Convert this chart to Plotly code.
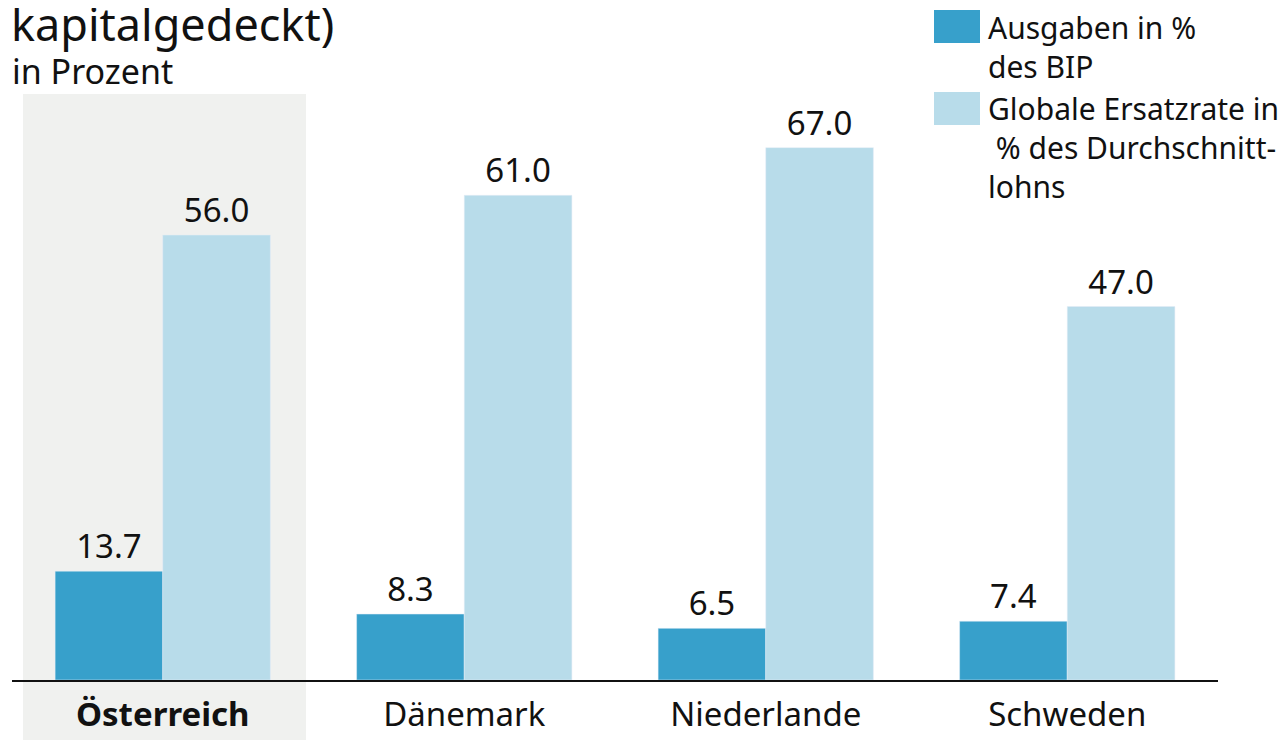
import plotly.graph_objects as go

categories = ["Österreich", "Dänemark", "Niederlande", "Schweden"]
tick_labels = ["<b>Österreich</b>", "Dänemark", "Niederlande", "Schweden"]
ausgaben = [13.7, 8.3, 6.5, 7.4]
ersatzrate = [56.0, 61.0, 67.0, 47.0]
series_names = ["Ausgaben in %<br>des BIP", "Globale Ersatzrate in<br> % des Durchschnitt-<br>lohns"]
title_text = "kapitalgedeckt)"
subtitle_text = "in Prozent"

DARK = "#37a0cb"
LIGHT = "#b8dcea"
HIGHLIGHT = "#f0f1ef"
FONT = "Noto Sans"

OFF = 8  # page body margin
W, H = 1286, 740
L, R, T, B = 4, 76, 86, 68
pw, ph = W - L - R, H - T - B

def px(x):
    return (x - OFF - L) / pw

def py(y):
    return (H - B - (y - OFF)) / ph

fig = go.Figure()
fig.add_trace(go.Bar(x=categories, y=ausgaben, name="a", marker_color=DARK,
                     texttemplate="%{y:.1f}", textposition="outside",
                     textfont=dict(size=33, color="#111"), cliponaxis=False))
fig.add_trace(go.Bar(x=categories, y=ersatzrate, name="b", marker_color=LIGHT,
                     texttemplate="%{y:.1f}", textposition="outside",
                     textfont=dict(size=33, color="#111"), cliponaxis=False))

shapes = [
    dict(type="rect", xref="paper", yref="paper", x0=px(23), x1=px(306), y0=py(760), y1=py(94),
         fillcolor=HIGHLIGHT, line_width=0, layer="below"),
    dict(type="rect", xref="paper", yref="paper", x0=px(934), x1=px(980), y0=py(43), y1=py(10),
         fillcolor=DARK, line_width=0),
    dict(type="rect", xref="paper", yref="paper", x0=px(934), x1=px(980), y0=py(125), y1=py(92),
         fillcolor=LIGHT, line_width=0),
]

annotations = [
    dict(text=title_text, xref="paper", yref="paper", x=px(9), y=py(23), xanchor="left", yanchor="middle",
         showarrow=False, font=dict(size=45, color="#111", family=FONT)),
    dict(text=subtitle_text, xref="paper", yref="paper", x=px(10), y=py(71), xanchor="left", yanchor="middle",
         showarrow=False, font=dict(size=34, color="#111", family=FONT)),
    dict(text=series_names[0], xref="paper", yref="paper", x=px(986), y=py(5), xanchor="left", yanchor="top",
         align="left", showarrow=False, font=dict(size=30, color="#111", family=FONT)),
    dict(text=series_names[1], xref="paper", yref="paper", x=px(986), y=py(86), xanchor="left", yanchor="top",
         align="left", showarrow=False, font=dict(size=30, color="#111", family=FONT)),
]

fig.update_layout(
    width=W, height=H,
    margin=dict(l=L, r=R, t=T, b=B, pad=0),
    paper_bgcolor="white", plot_bgcolor="rgba(0,0,0,0)",
    barmode="group", bargap=0.286, bargroupgap=0,
    showlegend=False,
    font=dict(family=FONT, color="#111"),
    shapes=shapes, annotations=annotations,
    xaxis=dict(tickmode="array", tickvals=categories, ticktext=tick_labels,
               tickfont=dict(size=33, color="#111"), showline=True, linecolor="#111", linewidth=2,
               ticks="outside", ticklen=4, tickcolor="rgba(0,0,0,0)", showgrid=False, zeroline=False,
               range=[-0.5, 3.5]),
    yaxis=dict(range=[0, 73.75], visible=False, showgrid=False, zeroline=False),
)

fig.write_html("out.html")
